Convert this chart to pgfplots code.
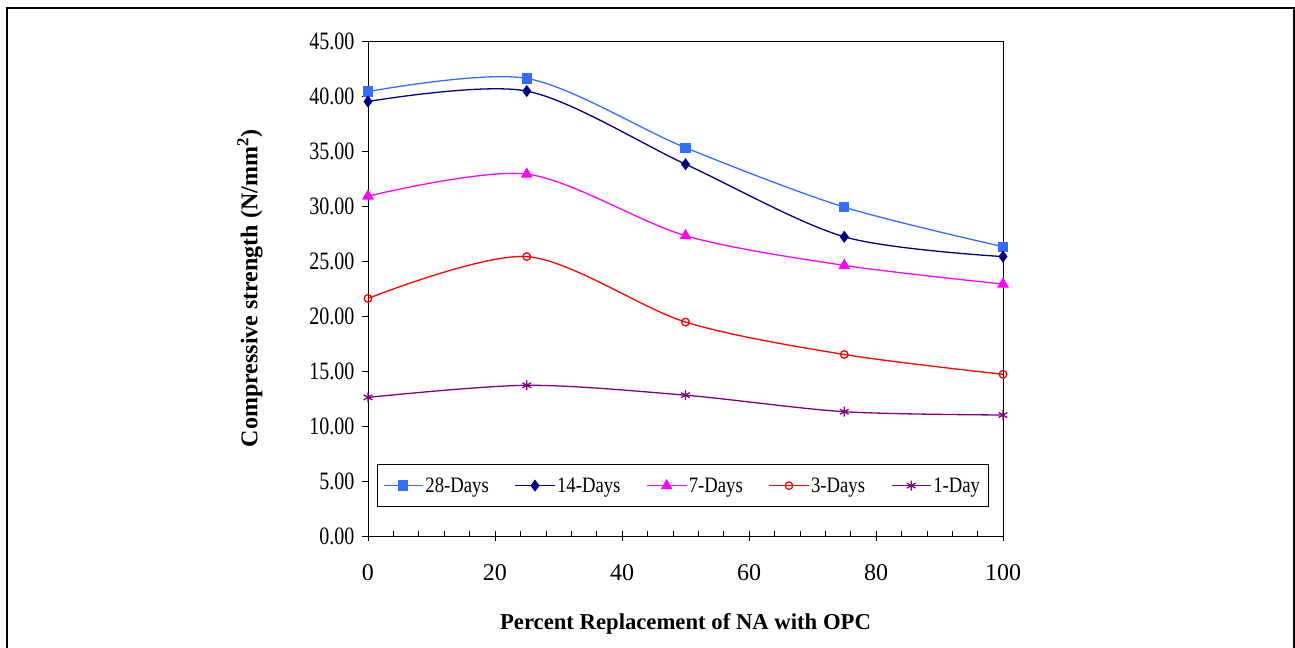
\documentclass[border=0pt]{standalone}
\usepackage{pgfplots}
\pgfplotsset{compat=1.18}
\usepackage{fontspec}
\setmainfont{Liberation Serif}
\newfontfamily\narrowa[FakeStretch=0.8]{Liberation Serif}
\newfontfamily\narrowb[FakeStretch=0.85]{Liberation Serif}

\definecolor{c28}{RGB}{51,110,255}
\definecolor{c14}{RGB}{0,0,128}
\definecolor{c7}{RGB}{255,0,255}
\definecolor{c3}{RGB}{255,0,0}
\definecolor{c1}{RGB}{128,0,128}

\begin{document}
\begin{tikzpicture}
% page frame, image pixels -> bp, axis lower left at (0,0)
\useasboundingbox (-368bp,-112bp) rectangle (927bp,536bp);
\draw[line width=1.5bp] (-361bp,-113bp) -- (-361bp,528bp) -- (926bp,528bp) -- (926bp,-113bp);
\begin{axis}[
    scale only axis,
    width=635bp, height=495bp,
    xmin=0, xmax=100, ymin=0, ymax=45,
    xtick={0,20,...,100}, minor x tick num=4,
    ytick={0,5,...,45},
    xtick pos=bottom, ytick pos=left,
    xtick align=center, ytick align=outside,
    major tick length=10bp, minor tick length=5bp,
    minor x tick style={yshift=2.5bp},
    y tick style={/pgfplots/major tick length=6bp},
    tick style={black, line width=0.6bp},
    axis line style={line width=0.8bp},
    /pgf/number format/assume math mode=true,
    xticklabel style={font=\fontsize{24bp}{28bp}\selectfont, yshift=-20bp},
    yticklabel style={font=\narrowa\fontsize{25bp}{28bp}\selectfont},
    yticklabel={\pgfmathprintnumber[fixed, fixed zerofill, precision=2]{\tick}},
    xlabel={\textbf{Percent Replacement of NA with OPC}},
    ylabel={\textbf{Compressive strength (N/mm\textsuperscript{2})}},
    xlabel style={font=\fontsize{22.7bp}{26bp}\selectfont, yshift=-26bp},
    ylabel style={font=\fontsize{24bp}{27bp}\selectfont, yshift=40bp},
    every axis plot/.append style={line width=1.3bp, smooth, tension=0.5},
    legend columns=5,
    legend style={at={(0.014,0.0586)}, anchor=south west, draw=black, line width=0.6bp,
        font=\narrowb\fontsize{22bp}{25bp}\selectfont, inner xsep=6bp, inner ysep=11bp,
        /tikz/every even column/.append style={column sep=24bp}},
    legend image code/.code={\draw[mark repeat=2, mark phase=2, #1] plot coordinates {(0bp,0bp) (19.5bp,0bp) (39bp,0bp)};},
]
\addplot[color=c28, mark=square*, mark size=4.5bp] coordinates {
    (0,40.4) (25,41.6) (50,35.3) (75,29.9) (100,26.3)
};
\addplot[color=c14, mark=diamond*, mark size=5bp] coordinates {
    (0,39.5) (25,40.45) (50,33.8) (75,27.2) (100,25.4)
};
\addplot[color=c7, mark=triangle*, mark size=5.5bp] coordinates {
    (0,30.9) (25,32.9) (50,27.3) (75,24.6) (100,22.9)
};
\addplot[color=c3, mark=o, mark size=3.8bp, mark options={fill=white}] coordinates {
    (0,21.6) (25,25.4) (50,19.45) (75,16.5) (100,14.7)
};
\addplot[color=c1, mark=asterisk, mark size=5bp] coordinates {
    (0,12.6) (25,13.7) (50,12.8) (75,11.3) (100,11.0)
};
\legend{28-Days,14-Days,7-Days,3-Days,1-Day}
\end{axis}
\end{tikzpicture}
\end{document}
